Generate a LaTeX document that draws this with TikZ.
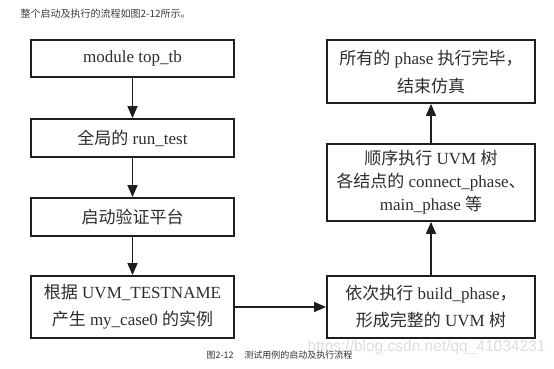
\documentclass[tikz,border=0pt]{standalone}
\usepackage{fontspec}
\setmainfont{Liberation Serif}
\newfontfamily\cjkf{Noto Sans CJK SC}
\newfontfamily\wmf{Liberation Sans}
\usetikzlibrary{arrows.meta}
\newcommand\zh[1]{{\cjkf #1}}
\definecolor{boxc}{RGB}{30,30,30}
\definecolor{txtc}{RGB}{45,45,45}
\definecolor{wmc}{RGB}{222,222,222}
\tikzset{
  flowbox/.style={draw=boxc, line width=1.8pt, inner sep=0pt, align=center, text=txtc,
    font=\fontsize{17}{27}\selectfont},
  leftbox/.style={flowbox, minimum width=203pt},
  rightbox/.style={flowbox, minimum width=208pt},
  flowarrow/.style={draw=boxc, line width=1.5pt, -{Triangle[length=12pt,width=10pt]}}
}
\begin{document}
\begin{tikzpicture}[x=1pt,y=-1pt]
\useasboundingbox (0,0) rectangle (554,369);
\fill[white] (0,0) rectangle (554,369);

\node[anchor=west, text={rgb,255:red,60;green,60;blue,60}, font=\fontsize{10}{12}\selectfont\cjkf] (hdr) at (17,14) {整个启动及执行的流程如图2-12所示。};

% left column
\node[leftbox, minimum height=37pt] (b1) at (132.5,58.5) {module top\_tb};
\node[leftbox, minimum height=38pt] (b2) at (132.5,138) {\zh{全局的} run\_test};
\node[leftbox, minimum height=38pt] (b3) at (132.5,217) {\zh{启动验证平台}};
\node[leftbox, minimum height=62pt] (b4) at (132.5,307) {\zh{根据} UVM\_TESTNAME\\\zh{产生} my\_case0 \zh{的实例}};

% right column
\node[rightbox, minimum height=62pt] (r3) at (431,307) {\zh{依次执行} build\_phase\zh{，}\\\zh{形成完整的} UVM \zh{树}};
\node[rightbox, minimum height=77pt, font=\fontsize{17}{23}\selectfont] (r2) at (431,182.5) {\zh{顺序执行} UVM \zh{树}\\\zh{各结点的} connect\_phase\zh{、}\\main\_phase \zh{等}};
\node[rightbox, minimum height=63pt, font=\fontsize{17}{28}\selectfont] (r1) at (431,71.5) {\zh{所有的} phase \zh{执行完毕，}\\\zh{结束仿真}};

% connectors
\draw[flowarrow] (b1) -- (b2);
\draw[flowarrow] (b2) -- (b3);
\draw[flowarrow] (b3) -- (b4);
\draw[flowarrow] (b4.east) -- (r3.west);
\draw[flowarrow] (r3) -- (r2);
\draw[flowarrow] (r2) -- (r1);

% watermark and caption
\node[anchor=west, text=wmc, font=\fontsize{15.5}{16}\selectfont\wmf] (wm) at (304,347) {https://blog.csdn.net/qq\_41034231};
\node[anchor=west, text={rgb,255:red,50;green,50;blue,50}, font=\fontsize{9}{10}\selectfont\cjkf] (cap) at (203,355) {图2-12\hspace{1.2em}测试用例的启动及执行流程};
\end{tikzpicture}
\end{document}
